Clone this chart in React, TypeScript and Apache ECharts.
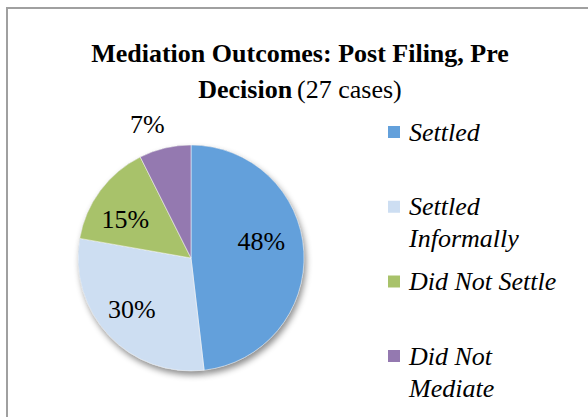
import React, { useEffect, useRef } from 'react';
import * as echarts from 'echarts';

const categories = ['Settled', 'Settled Informally', 'Did Not Settle', 'Did Not Mediate'];
const legendLabels = ['Settled', 'Settled\nInformally', 'Did Not Settle', 'Did Not\nMediate'];
const caseCounts = [13, 8, 4, 2];
const sliceColors = ['#63A0DB', '#CDDEF2', '#A8C26A', '#9479B0'];
const titleBold = ['Mediation Outcomes: Post Filing, Pre', 'Decision'];
const titleNote = '(27 cases)';

const FONT = 'Liberation Serif';
const labelOffsets: number[][] = [[11, -13], [-16, 11], [-18, -3], [-30, -76]];

export default function App() {
  const ref = useRef<HTMLDivElement>(null);
  useEffect(() => {
    if (!ref.current) return;
    const chart = echarts.init(ref.current, undefined, { renderer: 'svg' });

    const legends = categories.map((name, i) => {
      const multi = legendLabels[i].includes('\n');
      const iconCenter = 132 + 74.7 * i;
      return {
        show: true,
        orient: 'vertical',
        left: 386,
        top: iconCenter - (multi ? 48 : 16),
        padding: 0,
        itemGap: 0,
        itemWidth: 14,
        itemHeight: 14,
        icon: 'rect',
        selectedMode: false,
        data: [name],
        formatter: (n: string) => {
          const t = legendLabels[categories.indexOf(n)];
          return t.includes('\n') ? '\n' + t : t;
        },
        textStyle: {
          fontFamily: FONT,
          fontStyle: 'italic',
          fontSize: 26,
          lineHeight: 32,
          color: '#000',
          padding: [0, 0, 0, 3],
        },
      };
    });

    const pieData = categories.map((name, i) => ({
      name,
      value: caseCounts[i],
      itemStyle: { color: sliceColors[i] },
      label: { offset: labelOffsets[i] },
    }));

    chart.setOption({
      animation: false,
      backgroundColor: '#fff',
      title: {
        left: 300,
        top: 35,
        textAlign: 'center',
        padding: 0,
        text: `{b|${titleBold[0]}}\n{b|${titleBold[1]}} {n|${titleNote}}`,
        textStyle: {
          rich: {
            b: { fontFamily: FONT, fontWeight: 'bold', fontSize: 26, lineHeight: 36, color: '#000' },
            n: { fontFamily: FONT, fontWeight: 'normal', fontSize: 26, lineHeight: 36, color: '#000' },
          },
        },
      },
      legend: legends,
      graphic: [
        {
          type: 'rect',
          z: -10,
          shape: { x: 7, y: 8, width: 620, height: 440 },
          style: { fill: 'none', stroke: '#A0A0A0', lineWidth: 2 },
        },
      ],
      series: [
        {
          type: 'pie',
          silent: true,
          center: [191, 258],
          radius: 113,
          startAngle: 90,
          clockwise: true,
          label: { show: false },
          labelLine: { show: false },
          z: 1,
          itemStyle: {
            color: '#999',
            shadowBlur: 6,
            shadowColor: 'rgba(0,0,0,0.45)',
            shadowOffsetX: 2,
            shadowOffsetY: 4,
          },
          data: categories.map((name, i) => ({ name: name + ' ', value: caseCounts[i] })),
        },
        {
          type: 'pie',
          center: [191, 258],
          radius: 113,
          startAngle: 90,
          clockwise: true,
          percentPrecision: 0,
          z: 2,
          itemStyle: { borderColor: '#fff', borderWidth: 0.5 },
          label: {
            show: true,
            position: 'inside',
            formatter: '{d}%',
            fontFamily: FONT,
            fontSize: 26,
            color: '#000',
          },
          labelLine: { show: false },
          emphasis: { disabled: true },
          data: pieData,
        },
      ],
    });
    return () => chart.dispose();
  }, []);
  return (
    <div
      ref={ref}
      style={{ position: 'absolute', left: 0, top: 0, width: 588, height: 417, background: '#fff' }}
    />
  );
}
